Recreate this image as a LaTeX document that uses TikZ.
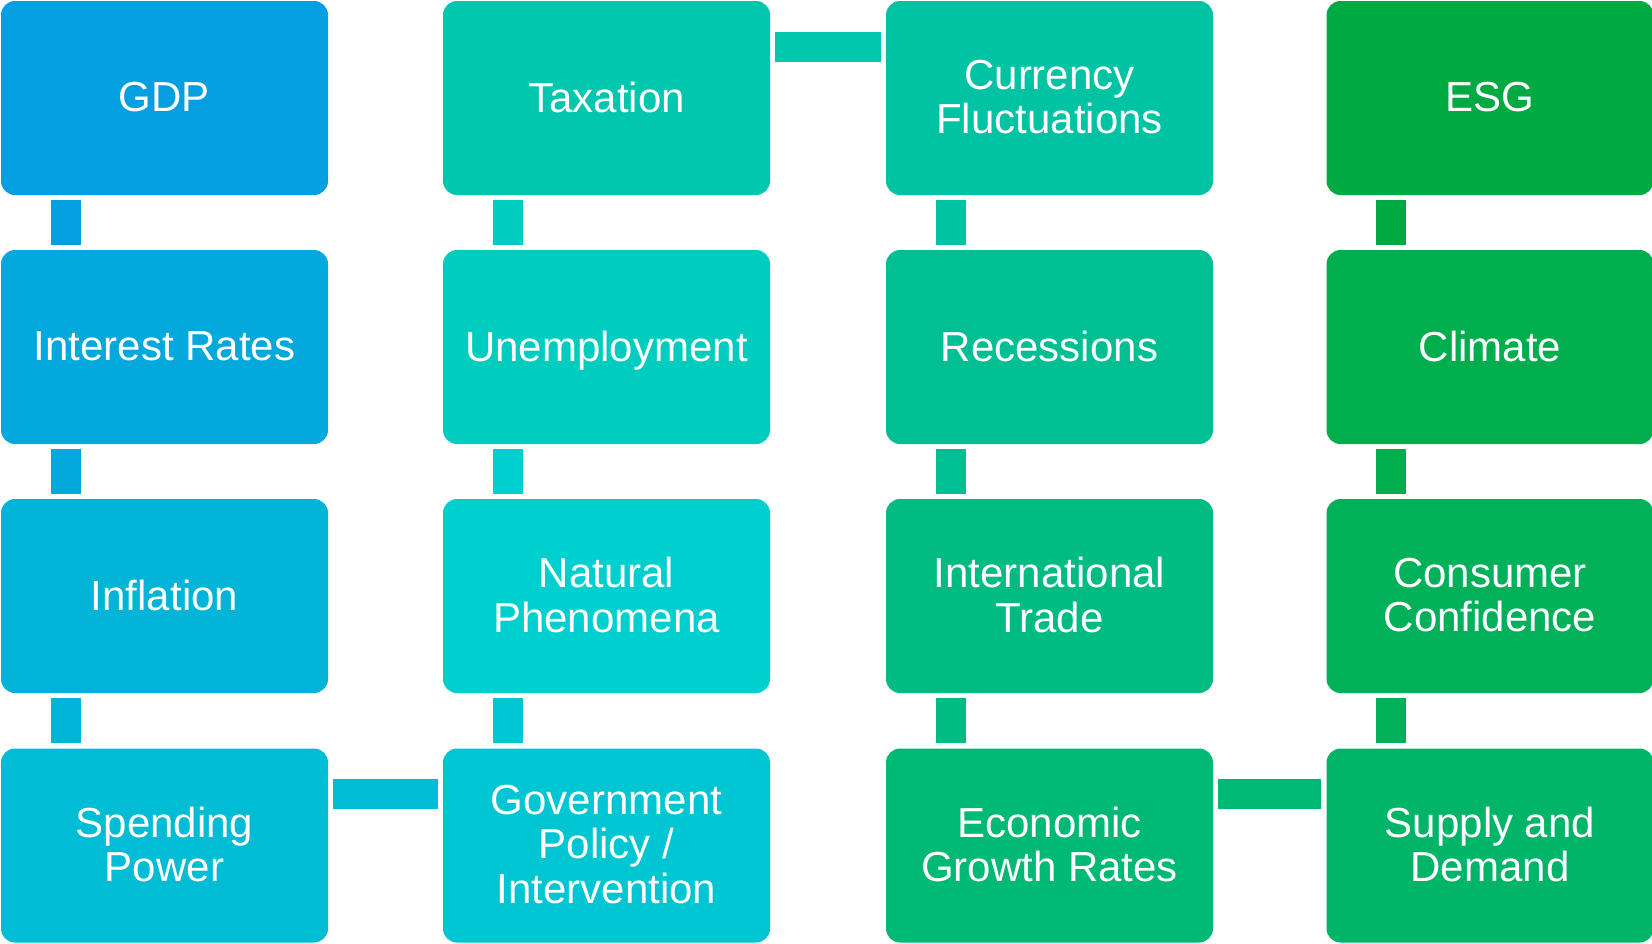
\documentclass[tikz,border=0pt]{standalone}
\usepackage{fontspec}
\setmainfont{Liberation Sans}
\usepackage{xcolor}
\usepackage{tikz}

\definecolor{cGdp}{HTML}{039FE0}
\definecolor{cRates}{HTML}{03A8DC}
\definecolor{cInfl}{HTML}{01B4D8}
\definecolor{cSpend}{HTML}{00BCD4}
\definecolor{cGov}{HTML}{00C6D3}
\definecolor{cNat}{HTML}{00CFCF}
\definecolor{cUnemp}{HTML}{00CDC0}
\definecolor{cTax}{HTML}{00C7AD}
\definecolor{cCurr}{HTML}{00C3A3}
\definecolor{cRec}{HTML}{00BF93}
\definecolor{cTrade}{HTML}{00BC83}
\definecolor{cGrowth}{HTML}{00B974}
\definecolor{cSupply}{HTML}{00B567}
\definecolor{cConf}{HTML}{00B15A}
\definecolor{cClim}{HTML}{00AE4D}
\definecolor{cEsg}{HTML}{00AA42}

\begin{document}
\begin{tikzpicture}[x=0.5pt,y=-0.5pt]
\tikzstyle{block}=[rounded corners=7pt, minimum width=163.5pt, minimum height=97pt, inner sep=0pt, text=white, align=center, text depth=1.2pt, font=\fontsize{21pt}{22.3pt}\selectfont]
\tikzstyle{link}=[line width=15pt, line cap=butt]
\useasboundingbox (0,0) rectangle (1652,943);

% column 1
\node[block, fill=cGdp] (gdp) at (164.5,98) {GDP};
\node[block, fill=cRates] (rates) at (164.5,347) {Interest Rates};
\node[block, fill=cInfl] (infl) at (164.5,596) {Inflation};
\node[block, fill=cSpend] (spend) at (164.5,845.5) {Spending\\Power};
% column 2
\node[block, fill=cTax] (tax) at (606.5,98) {Taxation};
\node[block, fill=cUnemp] (unemp) at (606.5,347) {Unemployment};
\node[block, fill=cNat] (nat) at (606.5,596) {Natural\\Phenomena};
\node[block, fill=cGov] (gov) at (606.5,845.5) {Government\\Policy /\\Intervention};
% column 3
\node[block, fill=cCurr] (curr) at (1049.5,98) {Currency\\Fluctuations};
\node[block, fill=cRec] (rec) at (1049.5,347) {Recessions};
\node[block, fill=cTrade] (trade) at (1049.5,596) {International\\Trade};
\node[block, fill=cGrowth] (growth) at (1049.5,845.5) {Economic\\Growth Rates};
% column 4
\node[block, fill=cEsg] (esg) at (1490,98) {ESG};
\node[block, fill=cClim] (clim) at (1490,347) {Climate};
\node[block, fill=cConf] (conf) at (1490,596) {Consumer\\Confidence};
\node[block, fill=cSupply] (supply) at (1490,845.5) {Supply and\\Demand};

% vertical links
\draw[link, cGdp] ([xshift=32.5pt,yshift=-2.5pt]gdp.south west) -- ([xshift=32.5pt,yshift=2.5pt]rates.north west);
\draw[link, cRates] ([xshift=32.5pt,yshift=-2.5pt]rates.south west) -- ([xshift=32.5pt,yshift=2.5pt]infl.north west);
\draw[link, cInfl] ([xshift=32.5pt,yshift=-2.5pt]infl.south west) -- ([xshift=32.5pt,yshift=2.5pt]spend.north west);
\draw[link, cUnemp] ([xshift=32.5pt,yshift=-2.5pt]tax.south west) -- ([xshift=32.5pt,yshift=2.5pt]unemp.north west);
\draw[link, cNat] ([xshift=32.5pt,yshift=-2.5pt]unemp.south west) -- ([xshift=32.5pt,yshift=2.5pt]nat.north west);
\draw[link, cGov] ([xshift=32.5pt,yshift=-2.5pt]nat.south west) -- ([xshift=32.5pt,yshift=2.5pt]gov.north west);
\draw[link, cCurr] ([xshift=32.5pt,yshift=-2.5pt]curr.south west) -- ([xshift=32.5pt,yshift=2.5pt]rec.north west);
\draw[link, cRec] ([xshift=32.5pt,yshift=-2.5pt]rec.south west) -- ([xshift=32.5pt,yshift=2.5pt]trade.north west);
\draw[link, cTrade] ([xshift=32.5pt,yshift=-2.5pt]trade.south west) -- ([xshift=32.5pt,yshift=2.5pt]growth.north west);
\draw[link, cEsg] ([xshift=32.5pt,yshift=-2.5pt]esg.south west) -- ([xshift=32.5pt,yshift=2.5pt]clim.north west);
\draw[link, cClim] ([xshift=32.5pt,yshift=-2.5pt]clim.south west) -- ([xshift=32.5pt,yshift=2.5pt]conf.north west);
\draw[link, cConf] ([xshift=32.5pt,yshift=-2.5pt]conf.south west) -- ([xshift=32.5pt,yshift=2.5pt]supply.north west);

% horizontal links
\draw[link, cSpend] ([xshift=2.5pt,yshift=-23pt]spend.north east) -- ([xshift=-2.5pt,yshift=-23pt]gov.north west);
\draw[link, cTax] ([xshift=2.5pt,yshift=-23pt]tax.north east) -- ([xshift=-2.5pt,yshift=-23pt]curr.north west);
\draw[link, cGrowth] ([xshift=2.5pt,yshift=-23pt]growth.north east) -- ([xshift=-2.5pt,yshift=-23pt]supply.north west);
\end{tikzpicture}
\end{document}
